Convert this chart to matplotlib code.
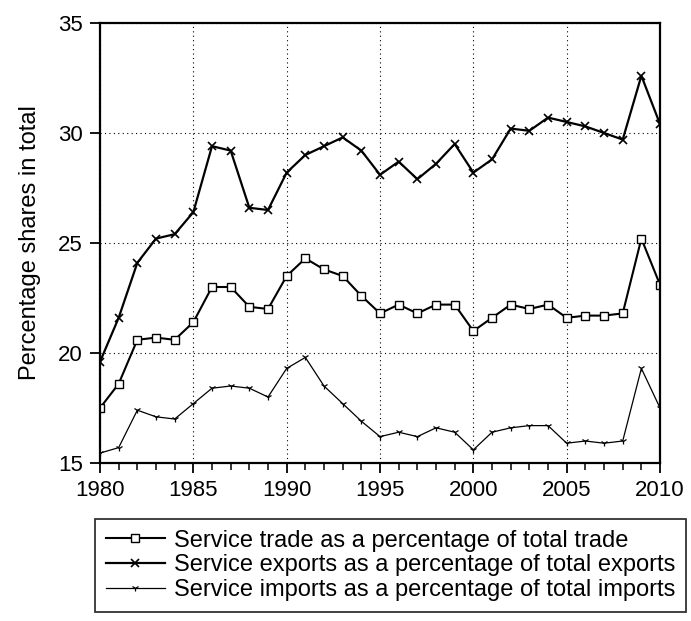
import matplotlib
matplotlib.use("Agg")
import matplotlib.pyplot as plt
from matplotlib.ticker import MultipleLocator

years = list(range(1980, 2011))
trade = [17.5, 18.6, 20.6, 20.7, 20.6, 21.4, 23.0, 23.0, 22.1, 22.0,
         23.5, 24.3, 23.8, 23.5, 22.6, 21.8, 22.2, 21.8, 22.2, 22.2,
         21.0, 21.6, 22.2, 22.0, 22.2, 21.6, 21.7, 21.7, 21.8, 25.2, 23.1]
exports = [19.6, 21.6, 24.1, 25.2, 25.4, 26.4, 29.4, 29.2, 26.6, 26.5,
           28.2, 29.0, 29.4, 29.8, 29.2, 28.1, 28.7, 27.9, 28.6, 29.5,
           28.2, 28.8, 30.2, 30.1, 30.7, 30.5, 30.3, 30.0, 29.7, 32.6, 30.4]
imports = [15.45, 15.7, 17.4, 17.1, 17.0, 17.7, 18.4, 18.5, 18.4, 18.0,
           19.3, 19.8, 18.5, 17.7, 16.9, 16.2, 16.4, 16.2, 16.6, 16.4,
           15.6, 16.4, 16.6, 16.7, 16.7, 15.9, 16.0, 15.9, 16.0, 19.3, 17.5]
labels = ["Service trade as a percentage of total trade",
          "Service exports as a percentage of total exports",
          "Service imports as a percentage of total imports"]
xticks = [1980, 1985, 1990, 1995, 2000, 2005, 2010]
yticks = [15, 20, 25, 30, 35]

plt.rcParams['font.family'] = ['Liberation Sans', 'DejaVu Sans']

fig = plt.figure(figsize=(6.91, 6.21), dpi=100)
ax = fig.add_axes([0.1447, 0.2544, 0.8105, 0.7086])

l1, = ax.plot(years, trade, color='black', lw=1.5, marker='s', markersize=6,
              markerfacecolor='white', markeredgecolor='black', markeredgewidth=1.0,
              label=labels[0])
l2, = ax.plot(years, exports, color='black', lw=1.6, marker='x', markersize=6,
              markeredgewidth=1.2, label=labels[1])
l3, = ax.plot(years, imports, color='black', lw=0.9, marker='1', markersize=5,
              markeredgewidth=0.9, label=labels[2])

ax.set_xlim(1980, 2010)
ax.set_ylim(15, 35)
ax.set_xticks(xticks)
ax.set_yticks(yticks)
ax.xaxis.set_minor_locator(MultipleLocator(1))
ax.tick_params(axis='both', which='major', direction='out', length=7.5, width=1.3,
               labelsize=16, colors='black', pad=5)
ax.tick_params(axis='x', which='minor', direction='out', length=5, width=1.1)
ax.grid(True, which='major', linestyle=(0, (1, 3)), color='black', lw=0.8)
for s in ax.spines.values():
    s.set_linewidth(1.6)

ax.set_ylabel("Percentage shares in total", fontsize=17, labelpad=12)

leg = fig.legend(handles=[l1, l2, l3], loc='upper left',
                 bbox_to_anchor=(95/691, 1 - 519/621), bbox_transform=fig.transFigure,
                 fontsize=17, handlelength=2.5, numpoints=1, frameon=True,
                 fancybox=False, edgecolor='black', borderpad=0.45,
                 labelspacing=0.12, handletextpad=0.4, borderaxespad=0)
leg.get_frame().set_linewidth(1.3)

fig.savefig("out.png", dpi=100)
